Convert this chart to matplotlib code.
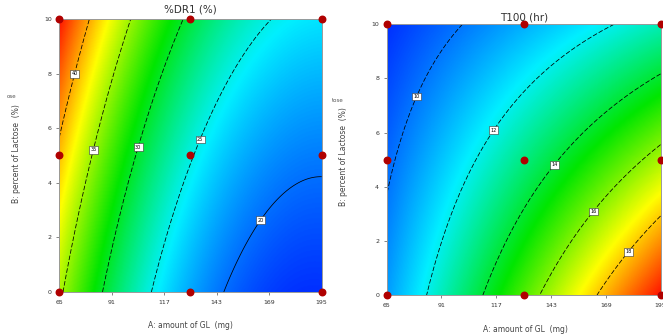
import numpy as np
import matplotlib.pyplot as plt
from matplotlib.colors import LinearSegmentedColormap

plt.rcParams['lines.dashed_pattern'] = [6, 2.5]

gl_ticks = [65, 91, 117, 143, 169, 195]
lac_ticks = [0, 2, 4, 6, 8, 10]
gl_ticklabels = ['65', '91', '117', '143', '169', '195']

# design points (red dots)
design_gl = [65, 130, 195, 65, 130, 195, 65, 130, 195]
design_lac = [10, 10, 10, 5, 5, 5, 0, 0, 0]

# %DR1 contour traces: (GL, lactose, level)
dr1_levels = [20, 25, 30, 35, 40]
dr1_gl = [80.2, 72.6, 65,
          100.3, 82, 80.2, 67,
          126.4, 104, 101.6, 86.3,
          169.7, 134.3, 130.5, 110.7,
          146.2, 164.2, 195]
dr1_lac = [10, 8.0, 5.8,
           10, 5.2, 4.65, 0,
           10, 5.3, 4.65, 0,
           10, 5.6, 4.65, 0,
           0, 2.66, 4.14]
dr1_val = [40, 40, 40,
           35, 35, 35, 35,
           30, 30, 30, 30,
           25, 25, 25, 25,
           20, 20, 20]
dr1_label_gl = [72.6, 82, 104, 134.3, 164.2]
dr1_label_lac = [8.0, 5.2, 5.3, 5.6, 2.66]

# T100 contour traces
t100_levels = [10, 12, 14, 16, 18]
t100_gl = [102.3, 79.3, 68.2, 65,
           172.8, 144.3, 130, 115.7, 107.8, 84.0,
           195, 174.4, 160.1, 144.3, 111,
           195, 187.1, 162.8, 137.9,
           195, 178.8, 164.9]
t100_lac = [10, 7.33, 4.8, 4.06,
            10, 8.56, 7.57, 6.1, 4.8, 0,
            8.19, 7.2, 6.22, 4.83, 0,
            5.48, 4.8, 3.1, 0,
            2.96, 1.65, 0]
t100_val = [10, 10, 10, 10,
            12, 12, 12, 12, 12, 12,
            14, 14, 14, 14, 14,
            16, 16, 16, 16,
            18, 18, 18]
t100_label_gl = [79.3, 115.7, 144.3, 162.8, 178.8]
t100_label_lac = [7.33, 6.1, 4.83, 3.1, 1.65]

cmap = LinearSegmentedColormap.from_list(
    'de', ['#0030ff', '#00f0ff', '#00e600', '#ffff00', '#ff1400'])


def fit_surface(gx, ly, val):
    # quadratic response surface through the traced contour points
    a = (np.asarray(gx) - 130) / 65
    b = (np.asarray(ly) - 5) / 5
    X = np.column_stack([np.ones_like(a), a, b, a * a, a * b, b * b])
    coef, *_ = np.linalg.lstsq(X, np.asarray(val, float), rcond=None)

    def f(g, l):
        a = (g - 130) / 65
        b = (l - 5) / 5
        return (coef[0] + coef[1] * a + coef[2] * b + coef[3] * a * a
                + coef[4] * a * b + coef[5] * b * b)
    return f


def draw_panel(ax, f, levels, styles, lab_g, lab_l):
    g = np.linspace(65, 195, 300)
    l = np.linspace(0, 10, 300)
    G, L = np.meshgrid(g, l)
    Z = f(G, L)
    ax.imshow(Z, origin='lower', extent=(65, 195, 0, 10), aspect='auto',
              cmap=cmap, interpolation='bilinear')
    cs = ax.contour(G, L, Z, levels=levels, colors='black',
                    linewidths=0.55, linestyles=styles)
    labs = ax.clabel(cs, fmt='%d', fontsize=3.5, inline=False,
                     manual=list(zip(lab_g, lab_l)))
    for t in labs:
        t.set_rotation(0)
        t.set_bbox(dict(facecolor='white', edgecolor='#333333', pad=1.0, lw=0.4))
    ax.scatter(design_gl, design_lac, s=22, c='#b00000', clip_on=False, zorder=5)
    ax.set_xlim(65, 195)
    ax.set_ylim(0, 10)
    ax.set_xticks(gl_ticks)
    ax.set_xticklabels(gl_ticklabels)
    ax.set_yticks(lac_ticks)
    ax.tick_params(labelsize=4.5, length=2, width=0.5, colors='#555555',
                   labelcolor='#333333')
    for s in ax.spines.values():
        s.set_color('#999999')
        s.set_linewidth(0.7)


fig = plt.figure(figsize=(6.63, 3.35), dpi=100)
ax1 = fig.add_axes([0.0894, 0.1284, 0.3958, 0.8149])
ax2 = fig.add_axes([0.5833, 0.1194, 0.4130, 0.8081])

f_dr1 = fit_surface(dr1_gl, dr1_lac, dr1_val)
draw_panel(ax1, f_dr1, dr1_levels,
           ['solid', 'dashed', 'dashed', 'dashed', 'dashed'],
           dr1_label_gl, dr1_label_lac)
f_t100 = fit_surface(t100_gl, t100_lac, t100_val)
draw_panel(ax2, f_t100, t100_levels, 'dashed', t100_label_gl, t100_label_lac)

fig.text(190 / 663, 1 - 10 / 335, '%DR1 (%)', ha='center', va='center',
         fontsize=7.5, color='#333333')
fig.text(524 / 663, 1 - 17 / 335, 'T100 (hr)', ha='center', va='center',
         fontsize=7.5, color='#333333')
fig.text(190 / 663, 1 - 326 / 335, 'A: amount of GL  (mg)', ha='center',
         va='center', fontsize=5.5, color='#444444')
fig.text(525 / 663, 1 - 329 / 335, 'A: amount of GL  (mg)', ha='center',
         va='center', fontsize=5.5, color='#444444')
fig.text(17 / 663, 1 - 154 / 335, 'B: percent of Lactose  (%)', ha='center',
         va='center', rotation=90, fontsize=5.5, color='#444444')
fig.text(343 / 663, 1 - 157 / 335, 'B: percent of Lactose  (%)', ha='center',
         va='center', rotation=90, fontsize=5.5, color='#444444')
fig.text(12 / 663, 1 - 96 / 335, 'ose', ha='center', va='center',
         fontsize=4, color='#555555')
fig.text(338 / 663, 1 - 100 / 335, 'tose', ha='center', va='center',
         fontsize=4, color='#555555')

fig.savefig('out.png', dpi=100)
